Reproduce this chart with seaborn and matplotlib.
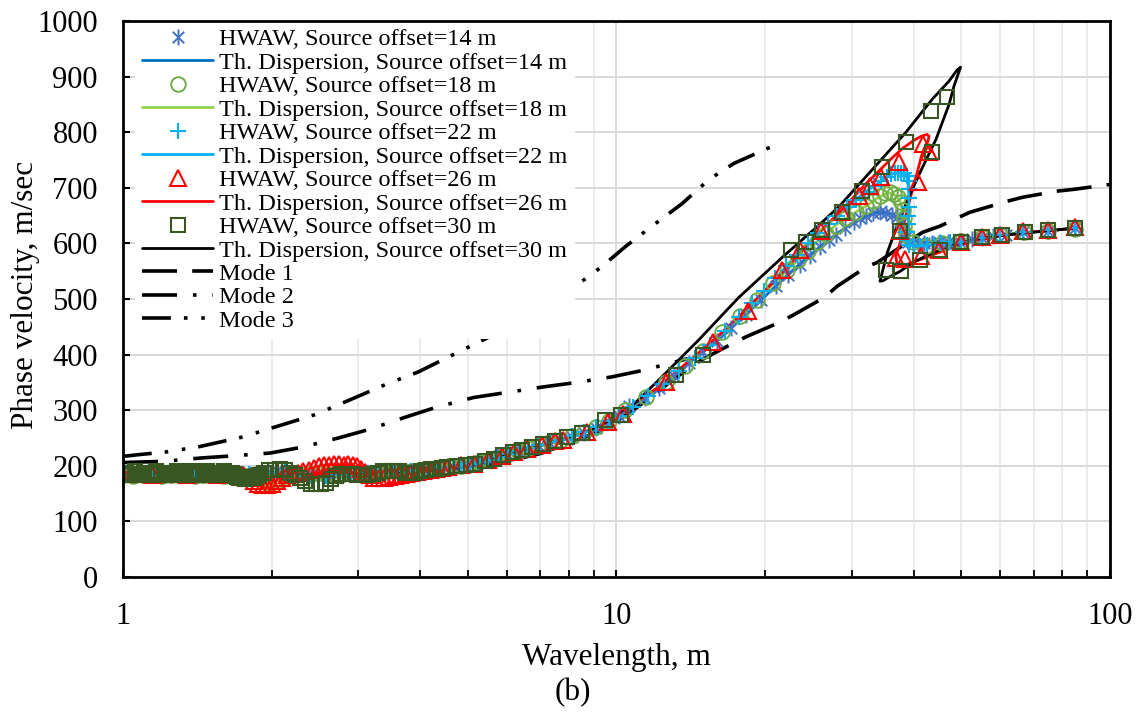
import matplotlib
matplotlib.use("Agg")
import matplotlib.pyplot as plt
from matplotlib.lines import Line2D
from matplotlib.path import Path
from matplotlib.ticker import LogLocator, NullFormatter, FixedLocator
import seaborn as sns

sns.set_style("white")
plt.rcParams["font.family"] = ["Liberation Serif", "DejaVu Serif"]
plt.rcParams["text.color"] = "black"
plt.rcParams["axes.labelcolor"] = "black"
plt.rcParams["xtick.color"] = "black"
plt.rcParams["ytick.color"] = "black"

# ---------------- HWAW picks, source offset = 14 m ----------------
lam_h14 = [1.00, 1.05, 1.10, 1.15, 1.20, 1.25, 1.30, 1.35, 1.40, 1.45, 1.50, 1.55, 1.60, 1.65, 1.70, 1.75, 1.80, 1.85, 1.90,
           1.97, 2.05, 2.13, 2.21, 2.30, 2.39, 2.48, 2.58, 2.68, 2.79, 2.90, 3.02, 3.14, 3.27, 3.40, 3.54, 3.68, 3.83, 3.98, 4.14, 4.31, 4.48,
           4.66, 4.85, 5.05, 5.27, 5.50, 5.75, 6.02, 6.31, 6.62, 6.96, 7.33, 7.72, 8.14, 8.60, 9.10, 9.64, 10.1,
           10.6, 11.4, 12.2, 13.1, 14.0, 15.0, 16.0, 17.1, 18.3, 19.6, 21.1, 22.3, 23.5, 24.7, 25.8, 26.9, 27.9, 29.1, 30.3, 31.2,
           32.0, 33.1, 34.2, 35.2, 36.2, 37.0, 37.6, 38.0, 38.2, 38.4, 39.0, 39.8, 40.8, 42.0, 43.5, 45.0, 47.0, 49.5, 52.5, 55.0,
           58.0, 61.5, 66.5, 74.8, 85.0]
vel_h14 = [184, 183, 184, 185, 184, 184, 183, 184, 185, 184, 184, 183, 184, 185, 184, 184, 185, 186, 187,
           189, 190, 189, 187, 185, 184, 183, 184, 185, 186, 187, 188, 188, 189, 190, 190, 190, 191, 192, 193, 195, 196,
           198, 200, 202, 206, 210, 215, 220, 226, 231, 236, 241, 246, 252, 259, 268, 279, 289,
           308, 322, 340, 362, 385, 405, 425, 448, 472, 498, 523, 544, 562, 578, 593, 606, 616, 628, 638, 645,
           650, 654, 656, 655, 652, 647, 640, 630, 619, 609, 603, 601, 600, 600, 601, 602, 603, 605, 608, 610,
           613, 616, 620, 623, 627]

# ---------------- HWAW picks, source offset = 18 m ----------------
lam_h18 = [1.00, 1.05, 1.10, 1.15, 1.20, 1.25, 1.30, 1.35, 1.40, 1.45, 1.50, 1.55, 1.60, 1.65, 1.70, 1.75, 1.80, 1.85,
           1.90, 1.95, 2.00, 2.06, 2.13, 2.21, 2.30, 2.39, 2.48, 2.58, 2.68, 2.79, 2.90, 3.02, 3.14, 3.27, 3.40, 3.54, 3.68, 3.83,
           3.98, 4.14, 4.31, 4.48,
           4.66, 4.85, 5.05, 5.27, 5.50, 5.75, 6.02, 6.31, 6.62, 6.96, 7.33, 7.72, 8.14, 8.60, 9.10, 9.64,
           10.4, 11.5, 12.6, 13.8, 15.0, 16.4, 17.8, 19.3, 20.8, 22.2, 23.3, 24.4, 25.5, 26.6, 27.9, 29.2, 30.6, 32.0, 33.1, 34.2,
           35.0, 35.8, 36.5, 37.2, 37.7, 38.0, 38.3, 38.3, 38.6, 39.9, 42.3, 45.6, 50.0, 55.0, 60.0, 67.0, 75.0, 85.0]
vel_h18 = [183, 182, 184, 183, 182, 183, 184, 183, 182, 183, 184, 183, 182, 183, 184, 183, 182, 180,
           176, 171, 170, 173, 179, 184, 186, 187, 187, 186, 185, 185, 186, 187, 188, 189, 189, 190, 190, 191,
           192, 193, 195, 196,
           198, 200, 203, 206, 211, 216, 221, 227, 232, 237, 242, 247, 253, 260, 269, 281,
           301, 324, 351, 380, 407, 440, 470, 499, 528, 553, 570, 586, 603, 617, 632, 645, 656, 667, 677, 685,
           690, 692, 689, 683, 674, 661, 646, 631, 615, 602, 595, 600, 605, 611, 616, 620, 623, 626]

# ---------------- HWAW picks, source offset = 22 m ----------------
lam_h22 = [1.00, 1.05, 1.10, 1.15, 1.20, 1.25, 1.30, 1.35, 1.40, 1.45, 1.50, 1.55, 1.60, 1.65, 1.70, 1.75, 1.80, 1.85, 1.90,
           1.97, 2.05, 2.13, 2.21, 2.30, 2.39, 2.48, 2.58, 2.68, 2.79, 2.90, 3.02, 3.14, 3.27, 3.40, 3.54, 3.68, 3.83, 3.98, 4.14, 4.31, 4.48,
           4.66, 4.85, 5.05, 5.27, 5.50, 5.75, 6.02, 6.31, 6.62, 6.96, 7.33, 7.72, 8.14, 8.60, 9.10, 9.64, 10.1,
           10.8, 11.6, 12.5, 13.4, 14.4, 15.5, 16.6, 17.7, 18.8, 19.9, 21.0, 22.1, 23.2, 24.4, 25.6, 26.8, 28.0, 29.3, 30.6, 31.9,
           33.2, 34.4, 35.3, 36.0, 36.6, 37.2, 37.8, 38.3, 38.8, 39.1, 39.2, 39.2, 39.1, 39.0, 38.9, 38.8, 38.8, 39.2, 40.1, 41.2,
           42.5, 44.0, 45.4, 47.5, 50.0, 55.0, 60.0, 66.5, 74.8, 85.0]
vel_h22 = [185, 184, 185, 186, 185, 184, 185, 186, 185, 184, 185, 186, 185, 184, 185, 186, 185, 184, 185,
           187, 188, 189, 188, 186, 184, 183, 182, 183, 184, 185, 186, 187, 188, 189, 190, 190, 191, 192, 194, 195, 196,
           198, 201, 203, 206, 211, 216, 221, 226, 232, 237, 242, 247, 253, 260, 269, 280, 290,
           306, 325, 347, 370, 394, 418, 443, 468, 492, 514, 537, 560, 580, 600, 618, 635, 650, 665, 679, 692,
           703, 712, 719, 724, 726, 727, 727, 726, 722, 712, 698, 682, 666, 650, 635, 620, 606, 598, 596, 596,
           597, 598, 600, 602, 603, 610, 616, 621, 624, 628]

# ---------------- HWAW picks, source offset = 26 m ----------------
lam_h26 = [1.00, 1.05, 1.10, 1.15, 1.20, 1.25, 1.30, 1.35, 1.40, 1.45, 1.50, 1.55, 1.60, 1.65, 1.70, 1.75,
           1.80, 1.84, 1.88, 1.92, 1.96, 2.00, 2.05, 2.10, 2.15, 2.20, 2.26, 2.32, 2.38, 2.44, 2.50, 2.56, 2.62, 2.68, 2.74, 2.80,
           2.86, 2.92, 2.98, 3.04, 3.10, 3.16, 3.22, 3.30, 3.38, 3.46, 3.55, 3.64, 3.74, 3.84, 3.95, 4.06, 4.18, 4.30, 4.43,
           4.56, 4.85, 5.15, 5.50, 5.85, 6.20, 6.60, 7.05, 7.50, 7.80, 8.70, 9.60, 10.3,
           12.6, 15.7, 18.5, 21.6, 23.6, 26.0, 28.6, 31.0, 32.6, 34.3, 37.4, 41.7, 43.0, 40.8, 37.6, 36.8, 38.4, 41.5, 45.1, 50.0,
           55.0, 60.0, 66.5, 74.8, 85.0]
vel_h26 = [185, 186, 185, 184, 185, 186, 185, 184, 185, 186, 185, 184, 185, 186, 185, 184,
           178, 172, 168, 166, 166, 168, 172, 178, 183, 186, 188, 190, 193, 196, 199, 201, 202, 203, 203, 202,
           203, 201, 199, 195, 189, 183, 179, 178, 179, 180, 182, 183, 185, 187, 189, 191, 193, 195, 196,
           198, 201, 204, 210, 217, 224, 231, 238, 244, 247, 261, 279, 293,
           351, 422, 478, 553, 589, 622, 656, 686, 703, 719, 747, 778, 764, 710, 622, 573, 572, 577, 589, 602,
           611, 616, 622, 625, 629]

# ---------------- HWAW picks, source offset = 30 m ----------------
lam_h30 = [1.000, 1.015, 1.030, 1.045, 1.060, 1.075, 1.090, 1.105, 1.120, 1.135, 1.150, 1.165, 1.180, 1.195, 1.210,
           1.225, 1.240, 1.255, 1.270, 1.285, 1.300, 1.315, 1.330, 1.345, 1.360, 1.375, 1.390, 1.405, 1.420, 1.435,
           1.450, 1.465, 1.480, 1.495, 1.510, 1.525, 1.540, 1.555, 1.570, 1.585, 1.600, 1.615, 1.630, 1.645, 1.660,
           1.675, 1.690, 1.705, 1.720, 1.735, 1.750, 1.765, 1.780, 1.795, 1.810, 1.825, 1.840, 1.855, 1.870,
           1.89, 1.93, 1.98, 2.03, 2.08, 2.13, 2.18, 2.23, 2.28, 2.34, 2.40, 2.46, 2.52, 2.58, 2.64, 2.70, 2.77, 2.84,
           2.91, 2.98, 3.05, 3.13, 3.21, 3.29, 3.37, 3.45, 3.54, 3.63, 3.72, 3.81, 3.91, 4.01, 4.11, 4.21, 4.32, 4.43,
           4.54, 4.75, 4.96, 5.18, 5.41, 5.65, 5.90, 6.16, 6.43, 6.75, 7.10, 7.50, 7.95, 8.50, 9.50, 10.2,
           13.2, 15.0, 22.6, 24.2, 26.1, 28.7, 31.5, 34.6, 38.6, 43.4, 46.7, 43.6, 37.6, 35.2, 37.7, 41.3, 45.3, 50.0,
           55.0, 60.3, 67.4, 74.8, 85.0]
vel_h30 = [185, 188, 183, 185, 190, 185, 183, 188, 185, 183, 185, 190, 188, 183, 185,
           188, 185, 183, 188, 190, 185, 183, 185, 188, 185, 190, 185, 183, 188, 185,
           183, 185, 190, 188, 183, 185, 188, 185, 183, 188, 190, 185, 183, 185, 188,
           185, 182, 180, 179, 178, 178, 177, 178, 179, 180, 179, 178, 180, 182,
           183, 188, 192, 193, 194, 192, 188, 184, 178, 172, 168, 167, 168, 170, 176, 182, 185, 186,
           185, 184, 183, 184, 186, 188, 190, 191, 191, 190, 188, 187, 188, 190, 192, 194, 195, 196,
           197, 199, 201, 204, 208, 213, 219, 224, 229, 234, 239, 244, 251, 259, 282, 291,
           364, 400, 589, 602, 625, 657, 694, 737, 783, 838, 863, 764, 622, 553, 550, 570, 588, 602,
           611, 616, 621, 624, 628]

# ---------------- Theoretical dispersion curves ----------------
lam_t14 = [1.0, 1.5, 2.0, 2.5, 3.0, 3.5, 4.0, 5.0, 6.0, 7.0, 8.0, 9.0, 10.0, 12.0, 14.0, 16.0, 18.0, 20.0, 22.0, 24.0,
           26.0, 28.0, 30.0, 32.0, 34.0, 35.5, 36.8, 37.6, 38.0, 38.3, 38.8, 40.0, 45.0, 50.0, 60.0, 70.0, 85.0]
vel_t14 = [184, 184, 189, 184, 187, 190, 192, 202, 220, 236, 250, 266, 288, 336, 385, 425, 466, 505, 540, 570,
           596, 618, 636, 649, 656, 655, 648, 638, 625, 610, 601, 599, 602, 606, 615, 621, 627]

lam_t18 = [1.0, 1.5, 2.0, 2.5, 3.0, 3.5, 4.0, 5.0, 6.0, 7.0, 8.0, 9.0, 10.0, 12.0, 14.0, 16.0, 18.0, 20.0, 22.0, 24.0,
           26.0, 28.0, 30.0, 32.0, 34.0, 35.5, 36.6, 37.5, 38.0, 38.3, 38.5, 39.0, 40.0, 42.0, 45.0, 50.0, 60.0, 70.0, 85.0]
vel_t18 = [183, 183, 171, 186, 186, 189, 192, 203, 221, 237, 251, 267, 289, 338, 385, 430, 472, 513, 549, 580,
           610, 635, 652, 667, 683, 691, 688, 677, 660, 640, 620, 605, 600, 597, 600, 605, 615, 621, 627]

lam_t22 = [1.0, 1.5, 2.0, 2.5, 3.0, 3.5, 4.0, 5.0, 6.0, 7.0, 8.0, 9.0, 10.0, 12.0, 14.0, 16.0, 18.0, 20.0, 22.0, 24.0,
           26.0, 28.0, 30.0, 32.0, 34.0, 35.5, 36.5, 37.5, 38.5, 38.9, 39.1, 39.1, 39.0, 39.3, 40.5, 43.0, 47.0, 52.0, 60.0,
           70.0, 85.0]
vel_t22 = [185, 185, 188, 183, 185, 189, 192, 202, 220, 237, 251, 267, 288, 337, 384, 430, 474, 516, 557, 594,
           624, 650, 673, 693, 709, 721, 726, 728, 725, 715, 690, 650, 615, 600, 596, 597, 601, 605, 614,
           621, 627]

lam_t26 = [1.0, 1.5, 1.8, 1.95, 2.2, 2.6, 2.9, 3.1, 3.3, 3.8, 4.5, 5.5, 6.5, 7.5, 8.5, 9.5, 10.0, 12.0, 14.0, 16.0,
           18.0, 20.0, 22.0, 24.0, 26.0, 28.0, 30.0, 32.0, 34.0, 36.0, 38.0, 40.0, 41.5, 42.6, 43.0, 42.8, 42.0, 41.5, 40.5, 39.3,
           38.3, 37.6, 36.8, 37.0, 37.6, 39.9, 43.0, 47.0, 52.0, 60.0, 70.0, 85.0]
vel_t26 = [185, 185, 178, 166, 186, 202, 202, 189, 178, 186, 197, 210, 230, 244, 258, 277, 290, 338, 388, 432,
           475, 515, 553, 590, 623, 652, 680, 707, 730, 752, 771, 785, 793, 796, 793, 785, 770, 757, 721, 679,
           638, 602, 577, 565, 559, 566, 577, 590, 603, 614, 621, 627]

lam_t30 = [1.0, 1.5, 2.0, 2.5, 3.0, 3.5, 4.0, 5.0, 6.0, 7.0, 8.0, 9.0, 10.0, 10.7, 12.2, 14.7, 17.7, 21.8, 25.8, 28.3,
           33.0, 38.6, 43.6, 47.2, 49.0, 49.8, 48.3, 47.2, 44.4, 41.5, 38.9, 36.8, 35.4, 34.4, 34.2, 34.7, 35.6, 37.6, 39.9, 43.0,
           47.2, 54.5, 62.6, 75.6, 85.0]
vel_t30 = [185, 185, 186, 178, 184, 188, 191, 202, 221, 237, 251, 266, 290, 306, 355, 427, 503, 577, 634, 667,
           733, 800, 859, 892, 912, 917, 883, 850, 787, 733, 679, 625, 584, 541, 532, 533, 539, 550, 566, 580,
           595, 609, 616, 623, 628]

# ---------------- Modal curves ----------------
lam_m1 = [1.0, 1.5, 2.0, 3.0, 4.0, 5.0, 6.0, 7.0, 8.0, 9.0, 10.0, 11.0, 12.0, 13.0, 14.9, 16.6, 18.3, 21.4, 22.9, 26.4,
          28.0, 32.0, 33.8, 38.0, 41.7, 45.2, 52.0, 62.0, 66.5, 78.0, 84.0, 100.0]
vel_m1 = [182, 182, 183, 185, 190, 197, 208, 222, 240, 258, 280, 305, 330, 355, 391, 413, 432, 458, 472, 503,
          523, 557, 566, 596, 620, 631, 656, 676, 683, 694, 697, 706]

lam_m2 = [1.0, 1.206, 1.434, 1.673, 1.988, 2.32, 2.73, 3.14, 3.75, 4.30, 5.14, 6.0, 7.12, 8.31, 9.79, 11.5, 12.5, 14.0]
vel_m2 = [206, 208, 214, 218, 223, 234, 250, 265, 288, 305, 323, 332, 342, 350, 360, 373, 382, 393]

lam_m3 = [1.0, 1.073, 1.223, 1.42, 1.75, 2.16, 2.45, 2.82, 3.40, 3.97, 4.79, 5.77, 6.96, 8.08, 9.30, 10.45, 11.8, 13.6,
          15.4, 17.3, 21.1]
vel_m3 = [217, 220, 225, 234, 252, 277, 292, 315, 346, 369, 405, 440, 481, 517, 557, 595, 631, 672,
          715, 744, 778]

x_ticks = [1, 10, 100]
x_ticklabels = ["1", "10", "100"]
y_ticks = [0, 100, 200, 300, 400, 500, 600, 700, 800, 900, 1000]

labels = ["HWAW, Source offset=14 m", "Th. Dispersion, Source offset=14 m",
          "HWAW, Source offset=18 m", "Th. Dispersion, Source offset=18 m",
          "HWAW, Source offset=22 m", "Th. Dispersion, Source offset=22 m",
          "HWAW, Source offset=26 m", "Th. Dispersion, Source offset=26 m",
          "HWAW, Source offset=30 m", "Th. Dispersion, Source offset=30 m",
          "Mode 1", "Mode 2", "Mode 3"]

# ---------------- styles ----------------
ASTERISK = Path([(0, -1), (0, 1), (-0.72, -0.72), (0.72, 0.72), (-0.72, 0.72), (0.72, -0.72)],
                [Path.MOVETO, Path.LINETO] * 3)

pick_styles = [
    dict(marker=ASTERISK, ms=11.5, mec="#4472C4", mew=1.4),
    dict(marker="o", ms=10.5, mec="#70AD47", mew=1.4),
    dict(marker="+", ms=11, mec="#00B0F0", mew=1.5),
    dict(marker="^", ms=11, mec="#FF0000", mew=1.5),
    dict(marker="s", ms=10.3, mec="#385723", mew=1.5),
]
line_colors = ["#0070C0", "#92D050", "#00B0F0", "#FF0000", "#000000"]
TH_LW = 2.0
MODE_LW = 2.6
mode_dashes = [(0, (9.7, 4.2)), (0, (9.7, 4.4, 1.0, 4.4)), (0, (8.0, 3.6, 1.0, 3.8, 1.0, 3.6))]

picks = [(lam_h14, vel_h14), (lam_h18, vel_h18), (lam_h22, vel_h22), (lam_h26, vel_h26), (lam_h30, vel_h30)]
theory = [(lam_t14, vel_t14), (lam_t18, vel_t18), (lam_t22, vel_t22), (lam_t26, vel_t26), (lam_t30, vel_t30)]
modes = [(lam_m1, vel_m1), (lam_m2, vel_m2), (lam_m3, vel_m3)]

fig = plt.figure(figsize=(11.45, 7.13), dpi=100)
ax = fig.add_axes([0.1074, 0.1907, 0.8620, 0.7798])

for (lx, vy), ls in zip(modes, mode_dashes):
    sns.lineplot(x=lx, y=vy, ax=ax, sort=False, estimator=None, color="black",
                 lw=MODE_LW, linestyle=ls, zorder=2)

for (lx, vy), c in zip(theory, line_colors):
    sns.lineplot(x=lx, y=vy, ax=ax, sort=False, estimator=None, color=c, lw=TH_LW, zorder=3)

for i, ((lx, vy), st) in enumerate(zip(picks, pick_styles)):
    sns.lineplot(x=lx, y=vy, ax=ax, sort=False, estimator=None, linestyle="none",
                 marker=st["marker"], markersize=st["ms"], mfc="none",
                 mec=st["mec"], mew=st["mew"], color=st["mec"], zorder=4 + i * 0.1)

# ---------------- axes ----------------
ax.set_xscale("log")
ax.set_xlim(1, 100)
ax.set_ylim(0, 1000)
ax.xaxis.set_major_locator(FixedLocator(x_ticks))
ax.set_xticklabels(x_ticklabels)
ax.xaxis.set_minor_locator(LogLocator(base=10, subs=[2, 3, 4, 5, 6, 7, 8, 9]))
ax.xaxis.set_minor_formatter(NullFormatter())
ax.set_yticks(y_ticks)

ax.set_axisbelow(True)
ax.yaxis.grid(True, color="#D9D9D9", lw=1.4)
ax.xaxis.grid(True, which="major", color="#D9D9D9", lw=1.4)
ax.xaxis.grid(True, which="minor", color="#EBEBEB", lw=1.4)

# frame drawn above the legend box so the top/left border stays visible
for sp in ax.spines.values():
    sp.set_visible(True)
    sp.set_color("black")
    sp.set_linewidth(2.0)
    sp.set_zorder(20)

ax.tick_params(axis="both", which="both", direction="in", top=False, right=False,
               bottom=True, left=True, colors="black")
ax.tick_params(axis="y", length=5, width=1.5, pad=18, labelsize=22)
ax.tick_params(axis="x", which="major", length=5, width=1.5, pad=18, labelsize=22)
ax.tick_params(axis="x", which="minor", length=5, width=1.3)

ax.set_xlabel("Wavelength, m", fontsize=22.5)
ax.xaxis.label.set_va("center")
ax.xaxis.set_label_coords(0.5, -0.145)
ax.set_ylabel("Phase velocity, m/sec", fontsize=22.5)
ax.yaxis.label.set_va("center")
ax.yaxis.set_label_coords(-0.099, 0.507)

fig.text(573 / 1145, 1 - 693 / 713, "(b)", ha="center", va="center", fontsize=22.5)

# ---------------- legend ----------------
handles = []
for st, c in zip(pick_styles, line_colors):
    handles.append(Line2D([], [], linestyle="none", marker=st["marker"], markersize=st["ms"],
                          mfc="none", mec=st["mec"], mew=st["mew"]))
    handles.append(Line2D([], [], color=c, lw=TH_LW))
for ls in mode_dashes:
    handles.append(Line2D([], [], color="black", lw=MODE_LW, linestyle=ls))

leg = ax.legend(handles, labels, loc="upper left", bbox_to_anchor=(0, 1.022), fontsize=17.5,
                frameon=True, fancybox=False, framealpha=1, facecolor="white", edgecolor="none",
                borderpad=0.3, borderaxespad=0.5, handlelength=2.9, handletextpad=0.25,
                labelspacing=0.06, numpoints=1)
leg.set_zorder(10)

fig.savefig("out.png", dpi=100)
